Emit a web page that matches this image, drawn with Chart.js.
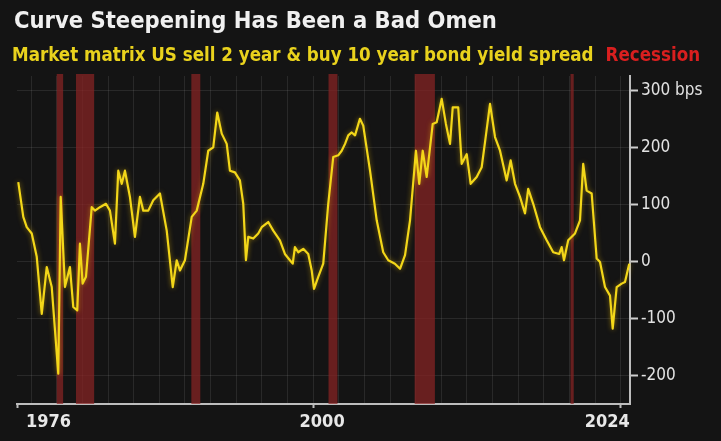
<!DOCTYPE html>
<html>
<head>
<meta charset="utf-8">
<script src="https://cdn.jsdelivr.net/npm/chart.js@4.4.1/dist/chart.umd.min.js"></script>
<style>
  html, body { margin: 0; padding: 0; background: #141414; }
  #wrap { position: relative; width: 721px; height: 441px; overflow: hidden; background: #141414; }
  #chart { position: absolute; left: 0; top: 0; }
  .title { position: absolute; left: 14px; top: 6px; font: bold 23.5px "DejaVu Sans Condensed", sans-serif; color: #f0f0f0; white-space: nowrap; }
  .sub { position: absolute; left: 12px; top: 44px; font: bold 18.6px "DejaVu Sans Condensed", sans-serif; color: #e9d21d; white-space: nowrap; }
  .sub .rec { color: #d91f1f; margin-left: 12px; }
</style>
</head>
<body>
<div id="wrap">
  <canvas id="chart" width="721" height="441"></canvas>
  <div class="title">Curve Steepening Has Been a Bad Omen</div>
  <div class="sub"><span>Market matrix US sell 2 year &amp; buy 10 year bond yield spread</span><span class="rec">Recession</span></div>
</div>
<script>
// US 2y/10y Treasury yield spread, basis points, sampled by decimal year
const years = [
  1977.00, 1977.39, 1977.66, 1978.05, 1978.44, 1978.83, 1979.22, 1979.61, 1980.12, 1980.31,
  1980.64, 1981.03, 1981.29, 1981.60, 1981.81, 1982.02, 1982.28, 1982.73, 1982.98, 1983.37,
  1983.84, 1984.15, 1984.54, 1984.80, 1985.07, 1985.32, 1985.71, 1986.10, 1986.49, 1986.75,
  1987.14, 1987.53, 1988.05, 1988.58, 1989.05, 1989.36, 1989.61, 1990.00, 1990.53, 1990.92,
  1991.43, 1991.82, 1992.21, 1992.52, 1992.87, 1993.26, 1993.51, 1993.90, 1994.29, 1994.55,
  1994.76, 1994.94, 1995.33, 1995.72, 1995.99, 1996.50, 1996.89, 1997.41, 1997.80, 1998.19,
  1998.41, 1998.58, 1998.84, 1999.23, 1999.62, 1999.89, 2000.07, 2000.40, 2000.79, 2001.18,
  2001.57, 2001.96, 2002.23, 2002.49, 2002.74, 2003.01, 2003.27, 2003.65, 2003.91, 2004.44,
  2004.96, 2005.47, 2005.86, 2006.38, 2006.78, 2007.17, 2007.56, 2008.02, 2008.28, 2008.55,
  2008.86, 2009.33, 2009.64, 2010.03, 2010.36, 2010.68, 2010.89, 2011.32, 2011.59, 2011.98,
  2012.29, 2012.76, 2013.15, 2013.41, 2013.80, 2014.19, 2014.58, 2015.10, 2015.41, 2015.75,
  2016.14, 2016.53, 2016.78, 2017.17, 2017.70, 2018.22, 2018.73, 2019.20, 2019.39, 2019.57,
  2019.90, 2020.43, 2020.82, 2021.07, 2021.34, 2021.73, 2022.12, 2022.38, 2022.77, 2023.16,
  2023.37, 2023.68, 2024.07, 2024.33, 2024.66
];
const spreadBps = [
  139, 78, 60, 49, 8, -92, -10, -45, -197, 113,
  -45, -10, -80, -86, 31, -39, -27, 95, 89, 95,
  101, 89, 31, 159, 136, 159, 113, 43, 113, 89,
  89, 107, 119, 54, -45, 2, -16, 2, 78, 89,
  136, 194, 200, 261, 224, 206, 159, 156, 142, 101,
  2, 43, 40, 49, 60, 69, 54, 37, 13, 2,
  -4, 25, 16, 22, 13, -16, -48, -27, -4, 101,
  183, 186, 194, 206, 221, 226, 221, 250, 238, 159,
  72, 16, 2, -4, -13, 11, 72, 194, 136, 194,
  148, 241, 244, 285, 241, 206, 270, 270, 171, 188,
  136, 148, 165, 209, 276, 218, 194, 142, 177, 136,
  113, 84, 127, 101, 60, 37, 16, 13, 25, 2,
  37, 49, 72, 171, 124, 119, 5, -1, -45, -60,
  -118, -45, -39, -36, -4
];

// NBER recessions (decimal years)
const recessionStarts = [1980.00, 1981.50, 1990.50, 2001.20, 2007.92, 2020.08];
const recessionEnds   = [1980.50, 1982.92, 1991.20, 2001.90, 2009.50, 2020.33];

// Axis labels
const xTickYears = [1976, 2000, 2024];
const yTickValues = [-200, -100, 0, 100, 200, 300];
const yUnit = 'bps';

const X_MIN = 1976.9, X_MAX = 2024.72;
const Y_MIN = -250, Y_MAX = 325;

const recessionBands = {
  id: 'recessionBands',
  beforeDatasetsDraw(chart) {
    const { ctx, chartArea, scales: { x } } = chart;
    ctx.save();
    ctx.fillStyle = 'rgba(140, 36, 36, 0.7)';
    recessionStarts.forEach((s, i) => {
      const x0 = x.getPixelForValue(s);
      const x1 = x.getPixelForValue(recessionEnds[i]);
      ctx.fillRect(x0, chartArea.top - 2, x1 - x0, chartArea.bottom - chartArea.top + 2);
    });
    ctx.restore();
  }
};

const lineGlow = {
  id: 'lineGlow',
  beforeDatasetDraw(chart) {
    const ctx = chart.ctx;
    ctx.save();
    ctx.shadowColor = 'rgba(255, 205, 0, 0.5)';
    ctx.shadowBlur = 5;
  },
  afterDatasetDraw(chart) {
    chart.ctx.restore();
  }
};

new Chart(document.getElementById('chart'), {
  type: 'line',
  data: {
    datasets: [{
      label: 'Market matrix US sell 2 year & buy 10 year bond yield spread',
      data: years.map((x, i) => ({ x, y: spreadBps[i] })),
      borderColor: '#f3d719',
      borderWidth: 2.2,
      pointRadius: 0,
      tension: 0,
      borderJoinStyle: 'round',
      clip: false
    }]
  },
  options: {
    responsive: false,
    animation: false,
    devicePixelRatio: 1,
    layout: { padding: { left: 17, top: 76, right: 0, bottom: 0 } },
    plugins: { legend: { display: false }, tooltip: { enabled: false }, title: { display: false } },
    scales: {
      x: {
        type: 'linear',
        position: 'bottom',
        min: X_MIN,
        max: X_MAX,
        afterBuildTicks(scale) {
          scale.ticks = xTickYears.map(v => ({ value: Math.min(Math.max(v, X_MIN), X_MAX) }));
        },
        afterFit(scale) { scale.height = 37; },
        ticks: {
          align: 'inner',
          labelOffset: 9,
          padding: 4,
          autoSkip: false,
          maxRotation: 0,
          color: '#e8e8e8',
          font: { family: 'DejaVu Sans Condensed', weight: 'bold', size: 18 },
          callback: (v, i) => String(xTickYears[i])
        },
        grid: { drawOnChartArea: false, tickLength: 4, tickColor: '#bdbdbd', tickWidth: 2 },
        border: { display: true, color: '#bdbdbd', width: 2 }
      },
      xGrid: {
        type: 'linear',
        position: 'bottom',
        min: X_MIN,
        max: X_MAX,
        afterFit(scale) { scale.height = 0; },
        ticks: { display: false, stepSize: 2, includeBounds: false },
        grid: { color: 'rgba(255,255,255,0.09)', lineWidth: 1, drawTicks: false },
        border: { display: false }
      },
      y: {
        type: 'linear',
        position: 'right',
        min: Y_MIN,
        max: Y_MAX,
        afterBuildTicks(scale) {
          scale.ticks = yTickValues.map(v => ({ value: v }));
        },
        afterFit(scale) { scale.width = 91; },
        ticks: {
          padding: 3,
          color: '#e2e2e2',
          font: { family: 'DejaVu Sans Condensed', size: 17 },
          callback: v => (v === yTickValues[yTickValues.length - 1] ? v + ' ' + yUnit : String(v))
        },
        grid: { color: 'rgba(255,255,255,0.09)', tickColor: '#cfcfcf', tickLength: 8, tickWidth: 2 },
        border: { display: true, color: '#bdbdbd', width: 2 }
      }
    }
  },
  plugins: [recessionBands, lineGlow]
});
</script>
</body>
</html>
